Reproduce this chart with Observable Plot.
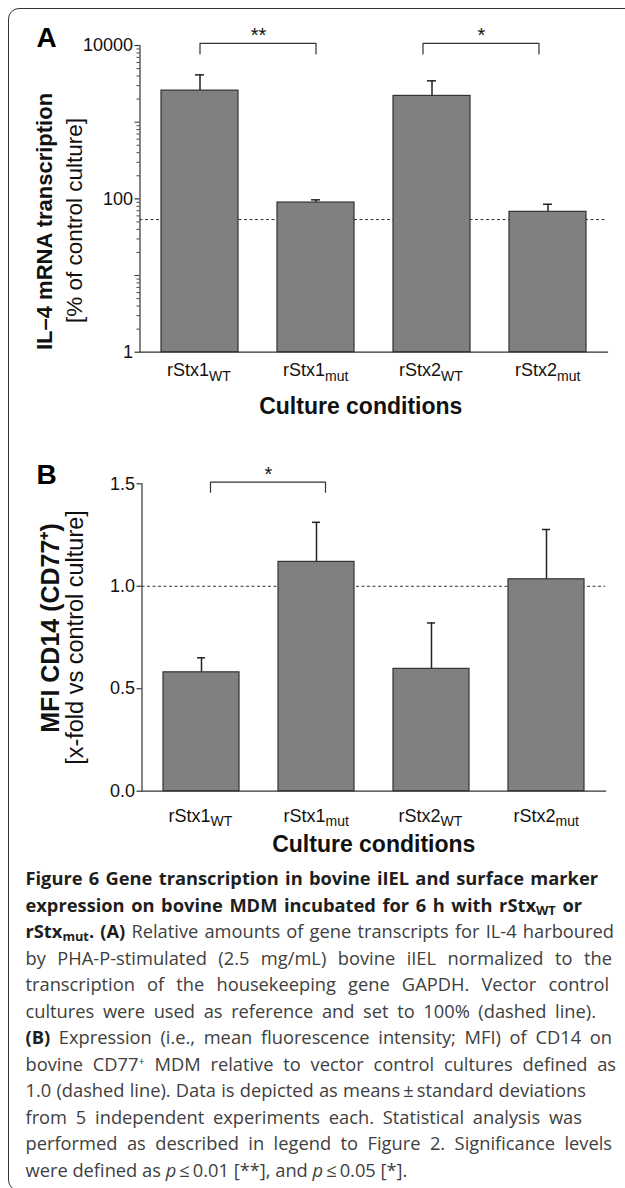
<!DOCTYPE html>
<html><head><meta charset="utf-8">
<script src="https://cdn.jsdelivr.net/npm/d3@7"></script>
<script src="https://cdn.jsdelivr.net/npm/@observablehq/plot@0.6"></script>
<style>
html,body{margin:0;padding:0;background:#fff;}
#page{position:relative;width:625px;height:1188px;overflow:hidden;}
#chartA{position:absolute;left:0;top:0;}
#chartB{position:absolute;left:0;top:420px;}
#frame{position:absolute;left:8px;top:7.5px;width:700px;height:1183px;border:1.5px solid #333;border-radius:11px;box-sizing:border-box;pointer-events:none;}
#caption{position:absolute;left:25.5px;top:865px;font-family:"Open Sans",sans-serif;font-size:18.3px;line-height:26.5px;color:#404040;}
.ln{white-space:nowrap;height:26.5px;}
.ln span.inner{display:inline-block;}
.ln b{color:#1e1e1e;font-weight:700;}
.ln sub{font-size:0.7em;vertical-align:-0.25em;line-height:0;}
.ln sup{font-size:0.6em;vertical-align:0.55em;line-height:0;}
</style>
</head><body>
<div id="page">
  <div id="chartA"></div>
  <div id="chartB"></div>
  <div id="caption"></div>
  <div id="frame"></div>
</div>
<script>
// ---------------- data ----------------
const categories = ["rStx1_WT", "rStx1_mut", "rStx2_WT", "rStx2_mut"];
// Panel A: IL-4 mRNA transcription [% of control culture] (log scale)
const il4Mean = [2580, 89.5, 2200, 67.7];
const il4SD = [1560, 7.5, 1260, 17.3];
const il4Dashed = 53.7;
const il4TickValues = [1, 100, 10000];
// Panel B: MFI CD14 (CD77+) [x-fold vs control culture]
const cd14Mean = [0.58, 1.119, 0.597, 1.034];
const cd14SD = [0.071, 0.193, 0.224, 0.243];
const cd14Dashed = 1.0;
const cd14TickValues = [0, 0.5, 1.0, 1.5];
// significance brackets
const sigA = [
  {from: "rStx1_WT", to: "rStx1_mut", label: "**"},
  {from: "rStx2_WT", to: "rStx2_mut", label: "*"}
];
const sigB = [
  {from: "rStx1_WT", to: "rStx1_mut", label: "*"}
];
const bracketA = {top: 10690, foot: 7770};
const bracketB = {top: 1.508, foot: 1.459};

const captionLines = [
  "<b>Figure 6 Gene transcription in bovine iIEL and surface marker</b>",
  "<b>expression on bovine MDM incubated for 6 h with rStx<sub>WT</sub> or</b>",
  "<b>rStx<sub>mut</sub>. (A)</b> Relative amounts of gene transcripts for IL-4 harboured",
  "by PHA-P-stimulated (2.5 mg/mL) bovine iIEL normalized to the",
  "transcription of the housekeeping gene GAPDH. Vector control",
  "cultures were used as reference and set to 100% (dashed line).",
  "<b>(B)</b> Expression (i.e., mean fluorescence intensity; MFI) of CD14 on",
  "bovine CD77<sup>+</sup> MDM relative to vector control cultures defined as",
  "1.0 (dashed line). Data is depicted as means\u2009\u00b1\u2009standard deviations",
  "from 5 independent experiments each. Statistical analysis was",
  "performed as described in legend to Figure 2. Significance levels",
  "were defined as <i>p</i>\u2009\u2264\u20090.01 [**], and <i>p</i>\u2009\u2264\u20090.05 [*]."
];
const captionLineEnds = [598, 582, 614, 612, 609, 596, 612, 616, 586, 582, 612, 438];

// ---------------- helpers ----------------
const FONT = "'Liberation Sans', Arial, Helvetica, sans-serif";
const INK = "#222";
const rowsA = categories.map((c, i) => ({cat: c, mean: il4Mean[i], upper: il4Mean[i] + il4SD[i]}));
const rowsB = categories.map((c, i) => ({cat: c, mean: cd14Mean[i], upper: cd14Mean[i] + cd14SD[i]}));
const bracketPts = (s, b) => [
  {x: s.from, y: b.foot}, {x: s.from, y: b.top}, {x: s.to, y: b.top}, {x: s.to, y: b.foot}
];
const minorLog = [];
for (let k = 0; k < 4; k++) for (let m = 2; m <= 9; m++) minorLog.push(m * Math.pow(10, k));
const midLog = [10, 1000];

function xLabelMarks(mainPad, subPad) {
  return [
    Plot.axisX({tickSize: 0, tickPadding: mainPad, fontSize: 18, textAnchor: "end", dx: 9,
      tickFormat: d => d.split("_")[0], label: null, fill: "#111"}),
    Plot.axisX({tickSize: 0, tickPadding: subPad, fontSize: 14, textAnchor: "start", dx: 9,
      tickFormat: d => d.split("_")[1], label: null, fill: "#111"})
  ];
}

// ---------------- Panel A ----------------
const plotA = Plot.plot({
  width: 625, height: 420,
  marginLeft: 139.5, marginRight: 18, marginTop: 45, marginBottom: 68.3,
  style: {fontFamily: FONT, fontSize: "18px", color: "#111", background: "transparent", overflow: "visible"},
  x: {domain: categories, paddingInner: 0.336, paddingOuter: 0.17, axis: null},
  y: {type: "log", domain: [1, 10000], axis: null},
  marks: [
    Plot.ruleY([il4Dashed], {stroke: "#333", strokeWidth: 1, strokeDasharray: "3,2.5"}),
    Plot.ruleX(rowsA, {x: "cat", y1: "mean", y2: "upper", stroke: INK, strokeWidth: 1.5}),
    Plot.tickY(rowsA, {x: "cat", y: "upper", stroke: INK, strokeWidth: 1.5, insetLeft: 34, insetRight: 34}),
    Plot.barY(rowsA, {x: "cat", y1: 1, y2: "mean", fill: "#808080", stroke: "#333", strokeWidth: 1.2}),
    Plot.frame({anchor: "left", stroke: "#333", strokeWidth: 1.2}),
    Plot.frame({anchor: "bottom", stroke: "#333", strokeWidth: 1.2}),
    Plot.axisY({ticks: il4TickValues, tickSize: 5, tickPadding: 2, fontSize: 18, tickFormat: d => String(d), label: null, strokeWidth: 1.2, stroke: "#333", fill: "#111"}),
    Plot.axisY({ticks: midLog, tickSize: 5, tickFormat: () => "", label: null, strokeWidth: 1, stroke: "#333"}),
    Plot.axisY({ticks: minorLog, tickSize: 3, tickFormat: () => "", label: null, strokeWidth: 1, stroke: "#444"}),
    ...xLabelMarks(11.5, 18.4),
    Plot.text(["Culture conditions"], {frameAnchor: "bottom", dy: 61.6, dx: -13, textAnchor: "middle", lineAnchor: "bottom", fontWeight: "bold", fontSize: 23, fill: "#111"}),
    Plot.text(["IL\u20134 mRNA transcription"], {frameAnchor: "left", rotate: -90, dx: -95.5, dy: 22.6, textAnchor: "middle", lineAnchor: "middle", fontWeight: "bold", fontSize: 22, fill: "#111"}),
    Plot.text(["[% of control culture]"], {frameAnchor: "left", rotate: -90, dx: -65.5, dy: 21.6, textAnchor: "middle", lineAnchor: "middle", fontSize: 22.5, fill: "#111"}),
    Plot.text(["A"], {frameAnchor: "top-left", dx: -103.5, dy: 1.7, textAnchor: "start", lineAnchor: "bottom", fontWeight: "bold", fontSize: 28, fill: "#000"}),
    Plot.line(bracketPts(sigA[0], bracketA), {x: "x", y: "y", stroke: "#333", strokeWidth: 1.2}),
    Plot.line(bracketPts(sigA[1], bracketA), {x: "x", y: "y", stroke: "#333", strokeWidth: 1.2, dx: -9}),
    Plot.text([sigA[0]], {x: "from", y: bracketA.top, text: "label", dx: 58.5, dy: -1.3, lineAnchor: "bottom", fontSize: 20, fill: "#111"}),
    Plot.text([sigA[1]], {x: "from", y: bracketA.top, text: "label", dx: 49.5, dy: -1.3, lineAnchor: "bottom", fontSize: 20, fill: "#111"})
  ]
});
document.getElementById("chartA").appendChild(plotA);

// ---------------- Panel B ----------------
const plotB = Plot.plot({
  width: 625, height: 440,
  marginLeft: 141.5, marginRight: 20, marginTop: 63.3, marginBottom: 69.3,
  style: {fontFamily: FONT, fontSize: "18px", color: "#111", background: "transparent", overflow: "visible"},
  x: {domain: categories, paddingInner: 0.336, paddingOuter: 0.17, axis: null},
  y: {domain: [0, 1.5], axis: null},
  marks: [
    Plot.ruleY([cd14Dashed], {stroke: "#333", strokeWidth: 1, strokeDasharray: "3,2.5"}),
    Plot.ruleX(rowsB, {x: "cat", y1: "mean", y2: "upper", stroke: INK, strokeWidth: 1.5}),
    Plot.tickY(rowsB, {x: "cat", y: "upper", stroke: INK, strokeWidth: 1.5, insetLeft: 34, insetRight: 34}),
    Plot.barY(rowsB, {x: "cat", y1: 0, y2: "mean", fill: "#808080", stroke: "#333", strokeWidth: 1.2}),
    Plot.frame({anchor: "left", stroke: "#333", strokeWidth: 1.2}),
    Plot.frame({anchor: "bottom", stroke: "#333", strokeWidth: 1.2}),
    Plot.axisY({ticks: cd14TickValues, tickSize: 5, tickPadding: 2, fontSize: 18, tickFormat: d3.format(".1f"), label: null, strokeWidth: 1.2, stroke: "#333", fill: "#111"}),
    ...xLabelMarks(18.2, 25.1),
    Plot.text(["Culture conditions"], {frameAnchor: "bottom", dy: 61, dx: 0, textAnchor: "middle", lineAnchor: "bottom", fontWeight: "bold", fontSize: 23, fill: "#111"}),
    Plot.text(["MFI CD14 (CD77\u207a)"], {frameAnchor: "left", rotate: -90, dx: -91.5, dy: -9.5, textAnchor: "middle", lineAnchor: "middle", fontWeight: "bold", fontSize: 25, fill: "#111"}),
    Plot.text(["[x-fold vs control culture]"], {frameAnchor: "left", rotate: -90, dx: -66.5, dy: 0, textAnchor: "middle", lineAnchor: "middle", fontSize: 23.5, fill: "#111"}),
    Plot.text(["B"], {frameAnchor: "top-left", dx: -105.5, dy: -0.3, textAnchor: "start", lineAnchor: "bottom", fontWeight: "bold", fontSize: 28, fill: "#000"}),
    Plot.line(bracketPts(sigB[0], bracketB), {x: "x", y: "y", stroke: "#333", strokeWidth: 1.2, dx: 9}),
    Plot.text([sigB[0]], {x: "from", y: bracketB.top, text: "label", dx: 67, dy: -1.3, lineAnchor: "bottom", fontSize: 20, fill: "#111"})
  ]
});
document.getElementById("chartB").appendChild(plotB);

// ---------------- caption ----------------
const cap = document.getElementById("caption");
captionLines.forEach((html, i) => {
  const div = document.createElement("div");
  div.className = "ln";
  const span = document.createElement("span");
  span.className = "inner";
  span.innerHTML = html;
  div.appendChild(span);
  cap.appendChild(div);
  if (i < captionLines.length - 1) {
    const natural = span.getBoundingClientRect().width;
    const target = captionLineEnds[i] - 25.5;
    const spaces = (span.textContent.match(/ /g) || []).length;
    if (spaces > 0) span.style.wordSpacing = ((target - natural) / spaces) + "px";
  }
});
</script>
</body></html>
